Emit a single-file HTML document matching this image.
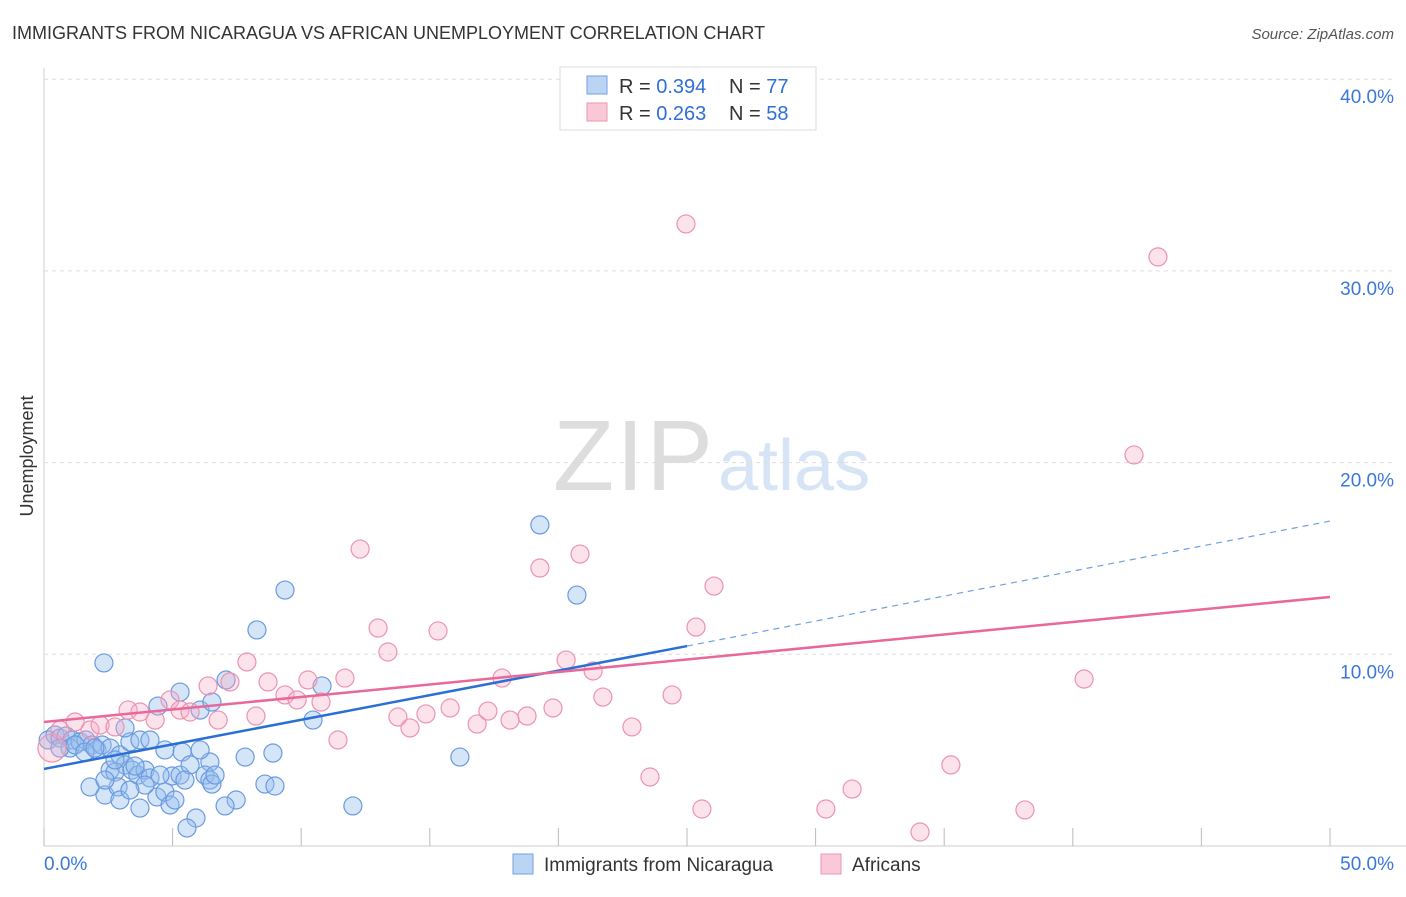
<!DOCTYPE html>
<html><head><meta charset="utf-8"><style>
body{margin:0;background:#fff;font-family:"Liberation Sans",sans-serif}
svg text{font-family:"Liberation Sans",sans-serif}
</style></head><body>
<svg id="c" width="1406" height="892" viewBox="0 0 1406 892" xmlns="http://www.w3.org/2000/svg">
<text x="12" y="39" font-size="18" fill="#333">IMMIGRANTS FROM NICARAGUA VS AFRICAN UNEMPLOYMENT CORRELATION CHART</text>
<text x="1394" y="39" font-size="15" fill="#555" text-anchor="end" font-style="italic">Source: ZipAtlas.com</text>
<text x="553" y="490" font-size="100" fill="#ddd" font-family="Liberation Serif" textLength="160">ZIP</text>
<text x="718" y="490" font-size="72" fill="#d6e4f5">atlas</text>
<text transform="translate(33,456) rotate(-90)" font-size="18" fill="#333" text-anchor="middle">Unemployment</text>
<g id="grid"></g><g id="pts"></g><g id="lines"></g>
<g>
<rect x="560" y="67" width="256" height="63" fill="#fff" stroke="#ddd"/>
<rect x="587" y="76" width="20" height="18" fill="#bcd4f4" stroke="#6f9fe0"/>
<rect x="587" y="103" width="20" height="18" fill="#f9c9d8" stroke="#ec95b2"/>
<text x="619" y="93" font-size="20" fill="#333">R = <tspan fill="#2f6fd6">0.394</tspan></text>
<text x="729" y="93" font-size="20" fill="#333">N = <tspan fill="#2f6fd6">77</tspan></text>
<text x="619" y="120" font-size="20" fill="#333">R = <tspan fill="#2f6fd6">0.263</tspan></text>
<text x="729" y="120" font-size="20" fill="#333">N = <tspan fill="#2f6fd6">58</tspan></text>
</g>
<g>
<rect x="513" y="854" width="20" height="20" fill="#bcd4f4" stroke="#6f9fe0"/>
<text x="544" y="871" font-size="19" fill="#333">Immigrants from Nicaragua</text>
<rect x="821" y="854" width="20" height="20" fill="#f9c9d8" stroke="#ec95b2"/>
<text x="852" y="871" font-size="19" fill="#333">Africans</text>
</g>
</svg>
<script>
const xTicks=[0,5,10,15,20,25,30,35,40,45,50];
const yTicks=[10,20,30,40];
const blueX=[0.16,0.43,0.62,0.86,1.09,1.01,1.40,1.63,1.87,2.06,2.26,2.57,2.33,2.95,3.15,3.34,3.73,2.57,2.76,3.42,3.65,3.93,4.12,4.70,4.98,5.29,5.37,5.29,4.43,5.68,6.07,6.53,6.45,6.26,6.45,6.53,7.08,7.82,8.28,8.90,9.37,10.81,10.46,8.59,8.98,7.47,7.04,5.91,5.56,3.73,2.37,1.79,2.88,4.39,4.70,4.90,12.01,16.17,19.28,20.72,2.37,4.12,6.07,3.15,0.62,1.21,1.59,1.98,2.76,3.54,3.93,4.51,5.48,6.65,2.95,3.34,5.09];
const blueY=[5.53,5.79,5.63,5.74,5.53,5.11,5.43,5.53,5.27,5.01,5.27,5.11,9.55,4.75,4.23,5.43,5.53,3.96,3.86,3.96,3.70,3.96,3.55,5.01,3.65,3.70,4.90,8.03,7.30,4.23,7.09,7.51,4.38,3.70,3.44,3.23,8.66,4.64,11.27,4.85,13.35,8.35,6.57,3.23,3.13,2.40,2.09,1.46,0.94,1.98,2.66,3.08,3.08,2.56,2.82,2.14,2.09,4.64,16.75,13.09,3.44,5.53,5.01,6.16,5.11,5.27,4.90,5.11,4.49,4.17,3.18,3.70,3.44,3.70,2.40,2.92,2.40];
const pinkX=[0.31,0.62,1.21,1.79,2.18,2.76,3.27,3.73,4.32,4.90,5.29,5.68,6.38,6.77,7.23,7.89,8.24,8.71,9.37,9.84,10.26,10.77,11.43,11.70,12.29,12.99,13.37,13.76,14.23,14.85,15.32,15.79,16.84,17.26,17.81,18.12,18.78,19.28,19.79,20.30,20.84,21.35,21.73,22.86,23.56,24.42,24.96,25.35,25.58,26.05,30.40,31.42,34.06,35.26,38.14,40.44,42.38,43.31];
const pinkY=[5.11,6.05,6.47,6.05,6.31,6.21,7.09,6.99,6.57,7.62,7.09,6.99,8.35,6.57,8.56,9.60,6.78,8.56,7.88,7.62,8.66,7.51,5.53,8.76,15.49,11.37,10.12,6.73,6.16,6.89,11.22,7.20,6.36,7.04,8.76,6.57,6.78,14.50,7.20,9.70,15.23,9.13,7.77,6.21,3.60,7.88,32.45,11.42,1.93,13.56,1.93,2.97,0.73,4.23,1.88,8.71,20.40,30.73];
const blueTrend=[4.02,10.43,16.95]; // at x=0, 25, 50
const pinkTrend=[6.47,12.99]; // at x=0, 50
const NS='http://www.w3.org/2000/svg';
const sx=v=>44+v*25.72, sy=v=>846-v*19.17;
function mk(t,a,p){const e=document.createElementNS(NS,t);for(const k in a)e.setAttribute(k,a[k]);p.appendChild(e);return e;}
const grid=document.getElementById('grid');
mk('line',{x1:44,y1:68,x2:44,y2:846,stroke:'#ccc'},grid);
mk('line',{x1:44,y1:846,x2:1406,y2:846,stroke:'#ccc'},grid);
yTicks.forEach(t=>{
 const l=mk('line',{x1:44,y1:sy(t),x2:1394,y2:sy(t),stroke:'#ddd','stroke-dasharray':'4,4'},grid);
 
 
 const tx=mk('text',{x:1394,y:sy(t)+24,'font-size':19,fill:'#3a78d8','text-anchor':'end'},grid);
 tx.textContent=t.toFixed(1)+'%';
 
 
});
xTicks.forEach(t=>{
 const l=mk('line',{x1:sx(t),y1:828,x2:sx(t),y2:846,stroke:'#bbb'},grid);
 
 
});
[[0,'start'],[50,'end']].forEach(([t,a])=>{
 const tx=mk('text',{x:t?1394:44,y:870,'font-size':19,fill:'#3a78d8','text-anchor':a},grid);
 tx.textContent=t.toFixed(1)+'%';
 
 
});
const pts=document.getElementById('pts');
blueX.forEach((x,i)=>{
 const c=mk('circle',{cx:sx(x),cy:sy(blueY[i]),r:9,fill:'rgba(150,190,238,0.4)',stroke:'#6a9ade','stroke-width':1.2},pts);
 
 
});
pinkX.forEach((x,i)=>{
 const c=mk('circle',{cx:sx(x),cy:sy(pinkY[i]),r:i===0?14:9,fill:'rgba(245,172,198,0.35)',stroke:'#eb93b0','stroke-width':1.2},pts);
 
 
});
const lines=document.getElementById('lines');
let b1=mk('line',{x1:sx(0),y1:sy(blueTrend[0]),x2:sx(25),y2:sy(blueTrend[1]),stroke:'#2a6fd6','stroke-width':2.5},lines);


let b2=mk('line',{x1:sx(25),y1:sy(blueTrend[1]),x2:sx(50),y2:sy(blueTrend[2]),stroke:'#6f9fe0','stroke-width':1.2,'stroke-dasharray':'6,5'},lines);


let p1=mk('line',{x1:sx(0),y1:sy(pinkTrend[0]),x2:sx(50),y2:sy(pinkTrend[1]),stroke:'#e8689a','stroke-width':2.5},lines);


</script>
</body></html>
